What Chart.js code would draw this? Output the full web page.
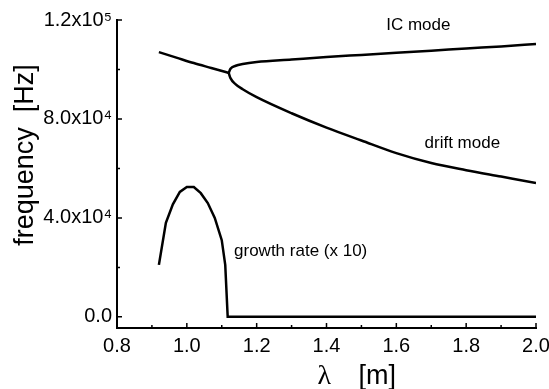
<!DOCTYPE html>
<html>
<head>
<meta charset="utf-8">
<script src="https://cdn.jsdelivr.net/npm/chart.js@4.4.1/dist/chart.umd.min.js"></script>
<style>
  html, body { margin: 0; padding: 0; background: #fff; }
  #wrap { width: 549px; height: 389px; }
</style>
</head>
<body>
<div id="wrap"><canvas id="dispersion" width="549" height="389"></canvas></div>
<script>
// wavelength [m] and frequency [Hz]
const lambdaLow = [0.92, 0.97, 1.02, 1.07, 1.12];
const freqLow = [107000, 104800, 102600, 100600, 98600];

const lambdaIC = [1.12, 1.125, 1.14, 1.16, 1.2, 1.3, 1.4, 1.5, 1.6, 1.7, 1.8, 1.9, 2.0];
const freqIC = [98600, 100300, 101500, 102200, 103000, 104000, 105000, 105900, 106800, 107600, 108500, 109300, 110300];

const lambdaDrift = [1.12, 1.125, 1.14, 1.16, 1.2, 1.3, 1.4, 1.5, 1.6, 1.7, 1.8, 1.9, 2.0];
const freqDrift = [98600, 96500, 94000, 92000, 88800, 82300, 76500, 71300, 66200, 62200, 59300, 56700, 54100];

const lambdaGrowth = [0.92, 0.94, 0.96, 0.98, 1.0, 1.02, 1.04, 1.06, 1.08, 1.10, 1.11, 1.117, 1.2, 1.4, 1.6, 1.8, 2.0];
const growthRate = [21000, 38000, 45500, 50500, 52500, 52500, 50000, 46000, 40000, 31000, 21000, 0, 0, 0, 0, 0, 0];

const xTicks = [0.8, 1.0, 1.2, 1.4, 1.6, 1.8, 2.0];
const xMinorTicks = [0.9, 1.1, 1.3, 1.5, 1.7, 1.9];
const yTicks = [0, 40000, 80000, 120000];
const yTickLabels = ["0.0", "4.0x10\u2074", "8.0x10\u2074", "1.2x10\u2075"];
const yMinorTicks = [20000, 60000, 100000];

const notes = [
  { text: "IC mode", x: 1.663, y: 118000 },
  { text: "drift mode", x: 1.789, y: 70300 },
  { text: "growth rate (x 10)", x: 1.326, y: 26300 },
];

const SANS = '"Liberation Sans", Arial, sans-serif';

function pts(xs, ys) {
  return xs.map((x, i) => ({ x: x, y: ys[i] }));
}

function line(xs, ys, smooth) {
  return {
    data: pts(xs, ys),
    showLine: true,
    borderColor: "#000",
    borderWidth: 2.5,
    pointRadius: 0,
    cubicInterpolationMode: smooth ? "monotone" : "default",
    tension: 0,
    fill: false,
  };
}

// ticks point into the plot, minor ones shorter
const innerTicks = {
  id: "innerTicks",
  afterDraw(chart) {
    const ctx = chart.ctx;
    const xs = chart.scales.x;
    const ys = chart.scales.y;
    const area = chart.chartArea;
    ctx.save();
    ctx.strokeStyle = "#000";
    ctx.lineWidth = 1.5;
    ctx.beginPath();
    xTicks.forEach((v) => {
      const px = xs.getPixelForValue(v);
      ctx.moveTo(px, area.bottom);
      ctx.lineTo(px, area.bottom - 5);
    });
    xMinorTicks.forEach((v) => {
      const px = xs.getPixelForValue(v);
      ctx.moveTo(px, area.bottom);
      ctx.lineTo(px, area.bottom - 3);
    });
    yTicks.forEach((v) => {
      const py = ys.getPixelForValue(v);
      ctx.moveTo(area.left, py);
      ctx.lineTo(area.left + 5, py);
    });
    yMinorTicks.forEach((v) => {
      const py = ys.getPixelForValue(v);
      ctx.moveTo(area.left, py);
      ctx.lineTo(area.left + 3, py);
    });
    ctx.stroke();

    // curve labels
    ctx.fillStyle = "#000";
    ctx.font = "17px " + SANS;
    ctx.textAlign = "center";
    ctx.textBaseline = "middle";
    notes.forEach((n) => {
      ctx.fillText(n.text, xs.getPixelForValue(n.x), ys.getPixelForValue(n.y));
    });

    // x axis title: lambda in serif, unit in sans
    const cx = (area.left + area.right) / 2;
    ctx.textAlign = "left";
    ctx.textBaseline = "alphabetic";
    ctx.font = '28px "Liberation Serif", serif';
    ctx.fillText("\u03bb", cx - 9, 384);
    ctx.font = "27px " + SANS;
    ctx.fillText("[m]", cx + 32, 384);

    // y axis title
    ctx.translate(26, (area.top + area.bottom) / 2 - 19);
    ctx.rotate(-Math.PI / 2);
    ctx.textAlign = "center";
    ctx.textBaseline = "middle";
    ctx.font = "27px " + SANS;
    ctx.fillText("frequency  [Hz]", 0, 0);
    ctx.restore();
  },
};

new Chart(document.getElementById("dispersion"), {
  type: "scatter",
  data: {
    datasets: [
      line(lambdaLow, freqLow, true),
      line(lambdaIC, freqIC, true),
      line(lambdaDrift, freqDrift, true),
      line(lambdaGrowth, growthRate, false),
    ],
  },
  options: {
    responsive: false,
    animation: false,
    layout: { padding: { top: 20, right: 13, left: 0, bottom: 0 } },
    plugins: {
      legend: { display: false },
      tooltip: { enabled: false },
    },
    scales: {
      x: {
        type: "linear",
        min: 0.8,
        max: 2.0,
        afterBuildTicks: (s) => { s.ticks = xTicks.map((v) => ({ value: v })); },
        afterFit: (s) => {
          s.height = 61;
          s.paddingLeft = 0;
          s.paddingRight = 0;
        },
        grid: { display: true, drawOnChartArea: false, drawTicks: false },
        border: { display: true, color: "#000", width: 2 },
        ticks: {
          color: "#000",
          padding: 6,
          maxRotation: 0,
          font: { family: SANS, size: 20 },
          callback: (v) => v.toFixed(1),
        },
      },
      y: {
        type: "linear",
        min: -4500,
        max: 120000,
        afterBuildTicks: (s) => { s.ticks = yTicks.map((v) => ({ value: v })); },
        afterFit: (s) => {
          s.width = 117;
          s.paddingTop = 0;
          s.paddingBottom = 0;
        },
        grid: { display: true, drawOnChartArea: false, drawTicks: false },
        border: { display: true, color: "#000", width: 2 },
        ticks: {
          color: "#000",
          padding: 5,
          font: { family: SANS, size: 20 },
          callback: (v) => yTickLabels[yTicks.indexOf(v)],
        },
      },
    },
  },
  plugins: [innerTicks],
});
</script>
</body>
</html>
